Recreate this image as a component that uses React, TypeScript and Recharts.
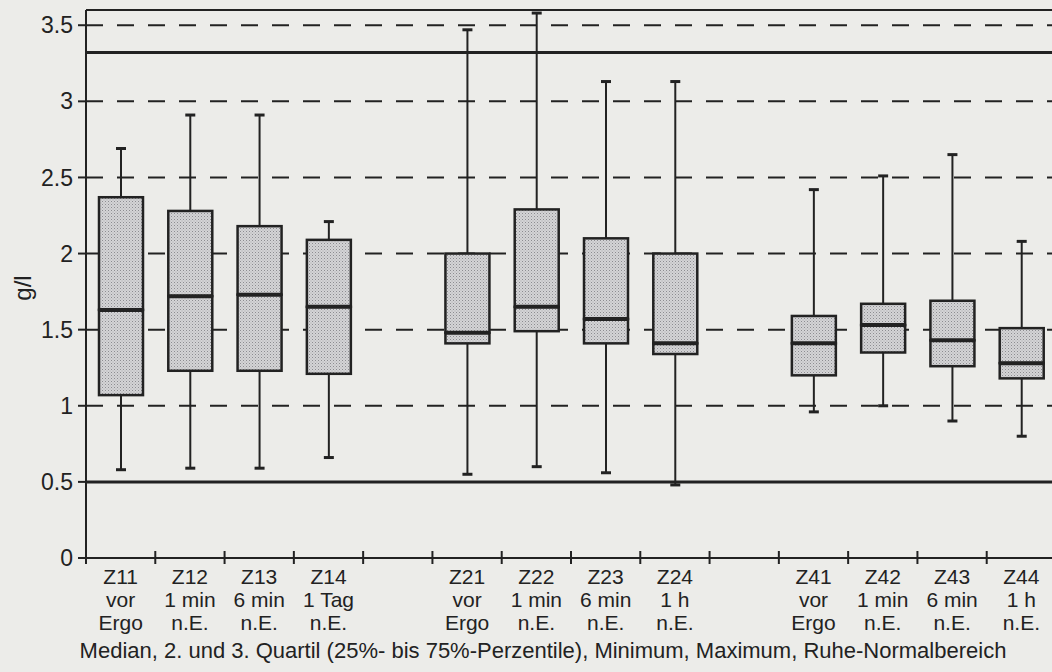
import { Bar, CartesianGrid, ComposedChart, ReferenceLine, XAxis, YAxis } from "recharts";

// categories (two empty slots separate the groups)
const ids = ["Z11", "Z12", "Z13", "Z14", "gap1", "Z21", "Z22", "Z23", "Z24", "gap2", "Z41", "Z42", "Z43", "Z44"];
const codeLabels = ["Z11", "Z12", "Z13", "Z14", "", "Z21", "Z22", "Z23", "Z24", "", "Z41", "Z42", "Z43", "Z44"];
const timeLabels = ["vor", "1 min", "6 min", "1 Tag", "", "vor", "1 min", "6 min", "1 h", "", "vor", "1 min", "6 min", "1 h"];
const refLabels = ["Ergo", "n.E.", "n.E.", "n.E.", "", "Ergo", "n.E.", "n.E.", "n.E.", "", "Ergo", "n.E.", "n.E.", "n.E."];

// g/l
const minVals = [0.58, 0.59, 0.59, 0.66, null, 0.55, 0.6, 0.56, 0.48, null, 0.96, 1.0, 0.9, 0.8];
const q1Vals = [1.07, 1.23, 1.23, 1.21, null, 1.41, 1.49, 1.41, 1.34, null, 1.2, 1.35, 1.26, 1.18];
const medianVals = [1.63, 1.72, 1.73, 1.65, null, 1.48, 1.65, 1.57, 1.41, null, 1.41, 1.53, 1.43, 1.28];
const q3Vals = [2.37, 2.28, 2.18, 2.09, null, 2.0, 2.29, 2.1, 2.0, null, 1.59, 1.67, 1.69, 1.51];
const maxVals = [2.69, 2.91, 2.91, 2.21, null, 3.47, 3.58, 3.13, 3.13, null, 2.42, 2.51, 2.65, 2.08];

const yTicks = [0, 0.5, 1, 1.5, 2, 2.5, 3, 3.5];
const normalRange = [0.5, 3.32];
const yMax = 3.6;

const footnote =
  "Median, 2. und 3. Quartil (25%- bis 75%-Perzentile), Minimum, Maximum, Ruhe-Normalbereich";

const data = ids.map((id, i) => ({
  id,
  min: minVals[i],
  q1: q1Vals[i],
  median: medianVals[i],
  q3: q3Vals[i],
  max: maxVals[i],
}));

const INK = "#222";
const FONT = "'Liberation Sans', Arial, Helvetica, sans-serif";
const CHART_W = 1070;
const CHART_H = 648;
const Y_AXIS_W = 86;
const MARGIN = { top: 10, right: 14, bottom: 0, left: 0 };
const SLOT = (CHART_W - Y_AXIS_W - MARGIN.left - MARGIN.right) / ids.length;
const BOX_W = 44;
const CAP_W = 10;

const WhiskerShape = (props: any) => {
  const { x, y, width, height, payload } = props;
  if (!payload || payload.max == null) return <g />;
  const cx = x + width / 2;
  return (
    <g stroke={INK}>
      <line x1={cx} x2={cx} y1={y} y2={y + height} strokeWidth={2} />
      <line x1={cx - CAP_W / 2} x2={cx + CAP_W / 2} y1={y} y2={y} strokeWidth={3} />
      <line x1={cx - CAP_W / 2} x2={cx + CAP_W / 2} y1={y + height} y2={y + height} strokeWidth={3} />
    </g>
  );
};

const UpperBox = (props: any) => {
  const { x, y, width, height, payload } = props;
  if (!payload || payload.max == null) return <g />;
  return <rect x={x} y={y} width={width} height={height} fill="url(#stipple)" stroke={INK} strokeWidth={2.5} />;
};

const LowerBox = (props: any) => {
  const { x, y, width, height, payload } = props;
  if (!payload || payload.max == null) return <g />;
  return (
    <g>
      <rect x={x} y={y} width={width} height={height} fill="url(#stipple)" stroke={INK} strokeWidth={2.5} />
      <line x1={x} x2={x + width} y1={y} y2={y} stroke={INK} strokeWidth={4} />
    </g>
  );
};

const CategoryTick = (props: any) => {
  const { x, y, index } = props;
  const left = x - SLOT / 2;
  return (
    <g fontFamily={FONT} fontSize={21} fill={INK} textAnchor="middle">
      <line x1={left} x2={left} y1={y - 7} y2={y + 6} stroke={INK} strokeWidth={2} />
      <text x={x} y={y + 26}>{codeLabels[index]}</text>
      <text x={x} y={y + 49}>{timeLabels[index]}</text>
      <text x={x} y={y + 72}>{refLabels[index]}</text>
    </g>
  );
};

export default function App() {
  return (
    <div
      style={{
        position: "absolute",
        left: 0,
        top: 0,
        width: 1052,
        height: 672,
        overflow: "hidden",
        background: "#ecece9",
        fontFamily: FONT,
        color: INK,
      }}
    >
      <ComposedChart
        width={CHART_W}
        height={CHART_H}
        data={data}
        margin={MARGIN}
        barSize={BOX_W}
        barGap={-BOX_W}
      >
        <defs>
          <pattern id="stipple" width="3" height="3" patternUnits="userSpaceOnUse">
            <rect width="3" height="3" fill="#d4d4d6" />
            <rect width="1" height="1" fill="#8c8c90" />
            <rect x="1.5" y="1.5" width="1" height="1" fill="#a8a8ac" />
          </pattern>
        </defs>
        <CartesianGrid
          vertical={false}
          stroke={INK}
          strokeWidth={2}
          strokeDasharray="17 14"
        />
        <XAxis
          dataKey="id"
          interval={0}
          height={90}
          tickSize={0}
          tickMargin={0}
          tickLine={false}
          axisLine={{ stroke: INK, strokeWidth: 2 }}
          tick={<CategoryTick />}
        />
        <YAxis
          type="number"
          domain={[0, yMax]}
          ticks={yTicks}
          width={Y_AXIS_W}
          tickSize={8}
          tickMargin={5}
          axisLine={{ stroke: INK, strokeWidth: 2 }}
          tickLine={{ stroke: INK, strokeWidth: 2 }}
          tick={{ fill: INK, fontSize: 23, fontFamily: FONT }}
        />
        <ReferenceLine y={yMax} stroke={INK} strokeWidth={2} />
        {normalRange.map((v) => (
          <ReferenceLine key={v} y={v} stroke={INK} strokeWidth={3} />
        ))}
        <Bar
          dataKey={(d: any) => (d.max == null ? null : [d.min, d.max])}
          shape={WhiskerShape}
          isAnimationActive={false}
        />
        <Bar
          dataKey={(d: any) => (d.max == null ? null : [d.median, d.q3])}
          shape={UpperBox}
          isAnimationActive={false}
        />
        <Bar
          dataKey={(d: any) => (d.max == null ? null : [d.q1, d.median])}
          shape={LowerBox}
          isAnimationActive={false}
        />
      </ComposedChart>
      <div
        style={{
          position: "absolute",
          left: 23,
          top: 288,
          transform: "translate(-50%, -50%) rotate(-90deg)",
          fontSize: 24,
          lineHeight: 1,
          whiteSpace: "nowrap",
        }}
      >
        g/l
      </div>
      <div
        style={{
          position: "absolute",
          left: 43,
          top: 640,
          width: 1000,
          textAlign: "center",
          fontSize: 22,
          lineHeight: "22px",
          whiteSpace: "nowrap",
        }}
      >
        {footnote}
      </div>
    </div>
  );
}
